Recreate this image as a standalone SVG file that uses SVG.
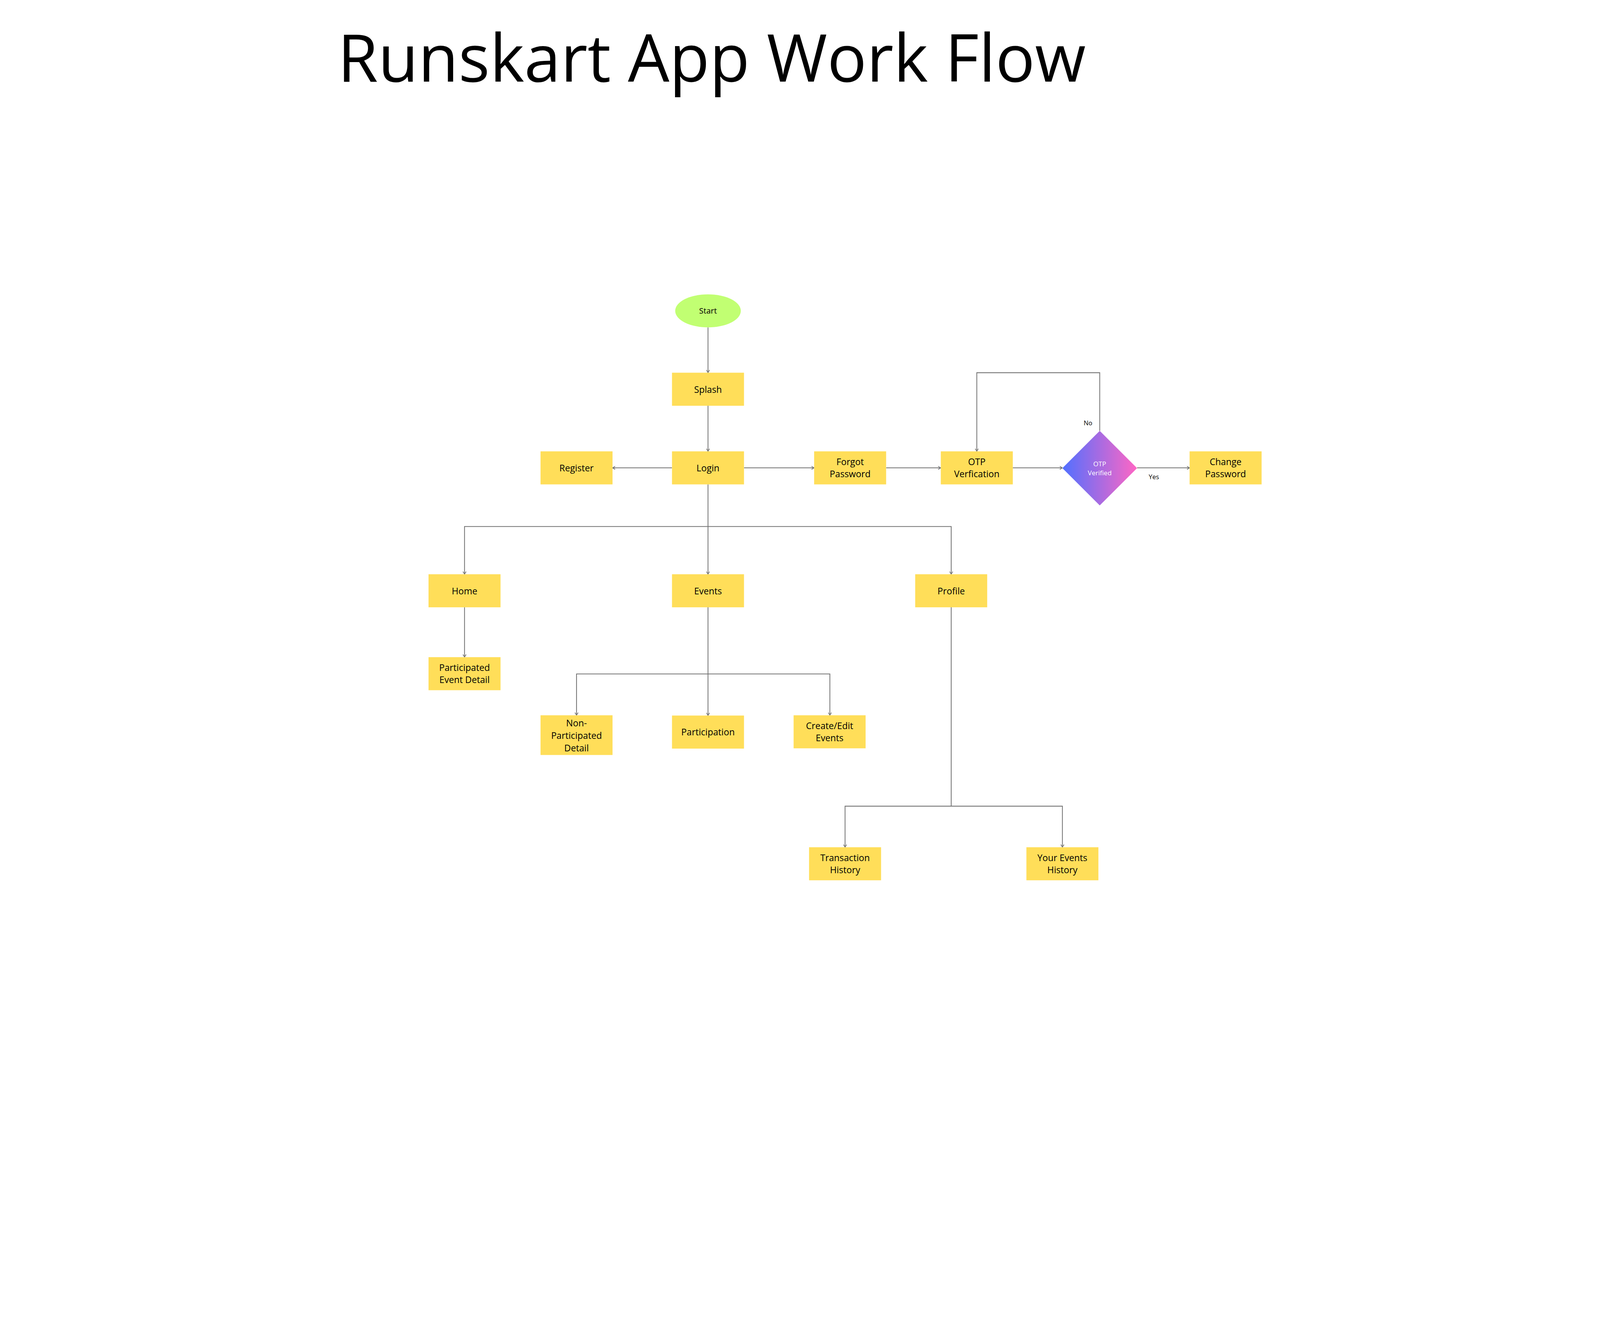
<svg xmlns="http://www.w3.org/2000/svg" width="6000" height="3375" viewBox="0 0 6000 3375" preserveAspectRatio="xMinYMin meet">
  <defs>
    <style>
      svg:root { width: 100vw; height: 100vh; }
      .box { fill: #FFDE59; }
      .lbl { font-family: "Open Sans", "Noto Sans", "Liberation Sans", sans-serif; font-size: 34px; fill: #000000; text-anchor: middle; }
      .small { font-family: "Open Sans", "Noto Sans", "Liberation Sans", sans-serif; font-size: 24px; fill: #000000; text-anchor: middle; }
      .dlbl { font-family: "Open Sans", "Noto Sans", "Liberation Sans", sans-serif; font-size: 25px; fill: #FFFFFF; text-anchor: middle; }
      .title { font-family: "Open Sans", "Noto Sans", "Liberation Sans", sans-serif; font-size: 246px; fill: #000000; }
      .conn { fill: none; stroke: #737373; stroke-width: 3; }
    </style>
    <marker id="arr" viewBox="0 0 12 14" refX="11" refY="7" markerWidth="12" markerHeight="14" markerUnits="userSpaceOnUse" orient="auto">
      <path d="M1,1 L11,7 L1,13" fill="none" stroke="#737373" stroke-width="2.5"/>
    </marker>
    <linearGradient id="grad" x1="0" y1="0" x2="1" y2="0">
      <stop offset="0" stop-color="#5170FF"/>
      <stop offset="1" stop-color="#FF66C4"/>
    </linearGradient>
  </defs>
  <rect x="0" y="0" width="6000" height="3375" fill="#FFFFFF"/>

  <text class="title" x="1266" y="306">Runskart App Work Flow</text>

  <g id="connectors">
    <path class="conn" d="M2655,1228 V1398" marker-end="url(#arr)"/>
    <path class="conn" d="M2655,1522 V1693" marker-end="url(#arr)"/>
    <path class="conn" d="M2520,1755 H2297" marker-end="url(#arr)"/>
    <path class="conn" d="M2790,1755 H3053" marker-end="url(#arr)"/>
    <path class="conn" d="M3323,1755 H3528" marker-end="url(#arr)"/>
    <path class="conn" d="M3798,1755 H3984" marker-end="url(#arr)"/>
    <path class="conn" d="M4264,1755 H4461" marker-end="url(#arr)"/>
    <path class="conn" d="M4124,1616 V1398 H3663 V1693" marker-end="url(#arr)"/>
    <path class="conn" d="M2655,1817 V2154" marker-end="url(#arr)"/>
    <path class="conn" d="M2655,1975 H1742 V2154" marker-end="url(#arr)"/>
    <path class="conn" d="M2655,1975 H3567 V2154" marker-end="url(#arr)"/>
    <path class="conn" d="M1742,2278 V2465" marker-end="url(#arr)"/>
    <path class="conn" d="M2655,2278 V2684" marker-end="url(#arr)"/>
    <path class="conn" d="M2655,2528 H2162 V2683" marker-end="url(#arr)"/>
    <path class="conn" d="M2655,2528 H3112 V2683" marker-end="url(#arr)"/>
    <path class="conn" d="M3567,2278 V3024"/>
    <path class="conn" d="M3567,3024 H3169 V3178" marker-end="url(#arr)"/>
    <path class="conn" d="M3567,3024 H3984 V3178" marker-end="url(#arr)"/>
    <text class="small" x="4080" y="1595">No</text>
    <text class="small" x="4327" y="1798">Yes</text>
  </g>

  <g id="start">
    <ellipse cx="2655" cy="1166" rx="123" ry="62" fill="#C1FF72"/>
    <text class="lbl" x="2655" y="1177" style="font-size:30px">Start</text>
  </g>
  <g id="splash">
    <rect class="box" x="2520" y="1398" width="270" height="124"/>
    <text class="lbl" x="2655" y="1473">Splash</text>
  </g>
  <g id="login">
    <rect class="box" x="2520" y="1693" width="270" height="124"/>
    <text class="lbl" x="2655" y="1768">Login</text>
  </g>
  <g id="register">
    <rect class="box" x="2027" y="1693" width="270" height="124"/>
    <text class="lbl" x="2162" y="1768">Register</text>
  </g>
  <g id="forgot-password">
    <rect class="box" x="3053" y="1693" width="270" height="124"/>
    <text class="lbl" x="3188" y="1745">Forgot</text>
    <text class="lbl" x="3188" y="1790">Password</text>
  </g>
  <g id="otp-verification">
    <rect class="box" x="3528" y="1693" width="270" height="124"/>
    <text class="lbl" x="3663" y="1745">OTP</text>
    <text class="lbl" x="3663" y="1790">Verfication</text>
  </g>
  <g id="otp-verified">
    <polygon points="4124,1616 4264,1756 4124,1896 3984,1756" fill="url(#grad)"/>
    <text class="dlbl" x="4124" y="1749">OTP</text>
    <text class="dlbl" x="4124" y="1782">Verified</text>
  </g>
  <g id="change-password">
    <rect class="box" x="4461" y="1693" width="270" height="124"/>
    <text class="lbl" x="4596" y="1745">Change</text>
    <text class="lbl" x="4596" y="1790">Password</text>
  </g>
  <g id="home">
    <rect class="box" x="1607" y="2154" width="270" height="124"/>
    <text class="lbl" x="1742" y="2229">Home</text>
  </g>
  <g id="events">
    <rect class="box" x="2520" y="2154" width="270" height="124"/>
    <text class="lbl" x="2655" y="2229">Events</text>
  </g>
  <g id="profile">
    <rect class="box" x="3432" y="2154" width="270" height="124"/>
    <text class="lbl" x="3567" y="2229">Profile</text>
  </g>
  <g id="participated-event-detail">
    <rect class="box" x="1607" y="2465" width="270" height="124"/>
    <text class="lbl" x="1742" y="2517">Participated</text>
    <text class="lbl" x="1742" y="2562">Event Detail</text>
  </g>
  <g id="non-participated-detail">
    <rect class="box" x="2027" y="2683" width="270" height="149"/>
    <text class="lbl" x="2162" y="2725">Non-</text>
    <text class="lbl" x="2162" y="2772">Participated</text>
    <text class="lbl" x="2162" y="2818">Detail</text>
  </g>
  <g id="participation">
    <rect class="box" x="2520" y="2684" width="270" height="124"/>
    <text class="lbl" x="2655" y="2759">Participation</text>
  </g>
  <g id="create-edit-events">
    <rect class="box" x="2976" y="2683" width="270" height="124"/>
    <text class="lbl" x="3111" y="2735">Create/Edit</text>
    <text class="lbl" x="3111" y="2780">Events</text>
  </g>
  <g id="transaction-history">
    <rect class="box" x="3034" y="3178" width="270" height="124"/>
    <text class="lbl" x="3169" y="3230">Transaction</text>
    <text class="lbl" x="3169" y="3275">History</text>
  </g>
  <g id="your-events-history">
    <rect class="box" x="3849" y="3178" width="270" height="124"/>
    <text class="lbl" x="3984" y="3230">Your Events</text>
    <text class="lbl" x="3984" y="3275">History</text>
  </g>
</svg>
